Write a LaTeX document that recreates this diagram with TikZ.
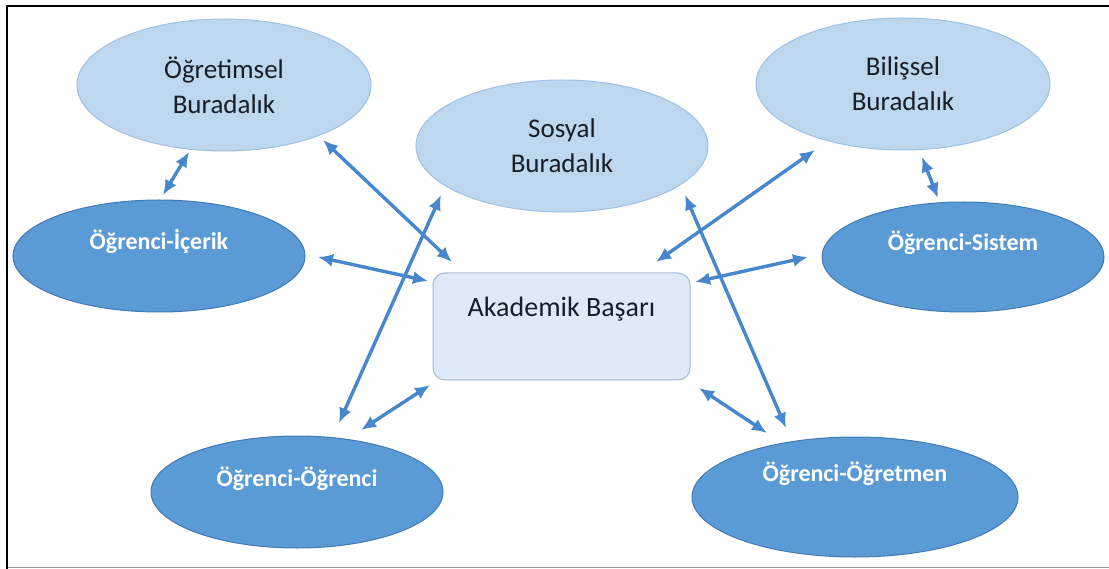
\documentclass[tikz,border=0pt]{standalone}
\usepackage{fontspec}
\setmainfont{Carlito}
\usetikzlibrary{shapes.geometric,arrows.meta}
\definecolor{lightfill}{RGB}{189,215,238}
\definecolor{lightedge}{RGB}{160,192,226}
\definecolor{darkfill}{RGB}{91,155,213}
\definecolor{darkedge}{RGB}{66,122,180}
\definecolor{boxfill}{RGB}{222,234,247}
\definecolor{boxedge}{RGB}{166,186,212}
\definecolor{arrowblue}{RGB}{72,134,206}
\definecolor{txtdark}{RGB}{24,30,40}
\tikzset{
  lightell/.style={ellipse, draw=lightedge, line width=1pt, fill=lightfill, inner sep=0pt,
    text=txtdark, align=center, font=\fontsize{27}{35}\selectfont},
  darkell/.style={ellipse, draw=darkedge, line width=1pt, fill=darkfill, inner sep=0pt,
    text=white, font=\fontsize{24}{28}\selectfont\bfseries, text height=0.7em},
  centerbox/.style={rectangle, rounded corners=12pt, draw=boxedge, line width=1pt, fill=boxfill,
    inner sep=0pt, text=txtdark, font=\fontsize{28}{32}\selectfont, text height=0.7em},
  biarrow/.style={{Latex[length=15pt,width=13pt]}-{Latex[length=15pt,width=13pt]},
    draw=arrowblue, line width=3.4pt}
}
\begin{document}
\begin{tikzpicture}[x=1pt,y=-1pt]
\useasboundingbox (0,0) rectangle (1109,569);
\fill[white] (0,0) rectangle (1109,569);
% frame
\draw[black!40, line width=1pt] (7,567.5) -- (1109,567.5);
\draw[black, line width=2.5pt] (7,569) -- (7,6) -- (1109,6);

% nodes
\node[lightell, minimum width=294pt, minimum height=132pt] (ob) at (224,85) {Öğretimsel\\Buradalık};
\node[lightell, minimum width=292pt, minimum height=132pt] (sb) at (562,146) {Sosyal\\Buradalık};
\node[lightell, minimum width=294pt, minimum height=132pt] (bb) at (903,84) {Bilişsel\\Buradalık};
\node[darkell, minimum width=292pt, minimum height=112pt, text depth=19pt] (oi) at (159,256) {Öğrenci-İçerik};
\node[darkell, minimum width=282pt, minimum height=110pt, text depth=19pt] (os) at (963,257) {Öğrenci-Sistem};
\node[darkell, minimum width=292pt, minimum height=112pt, text depth=19pt] (oo) at (297,492) {Öğrenci-Öğrenci};
\node[darkell, minimum width=326pt, minimum height=120pt, text depth=38pt] (ot) at (855,497) {Öğrenci-Öğretmen};
\node[centerbox, minimum width=257pt, minimum height=107pt, text depth=27pt] (ab) at (561.5,326.5) {Akademik Başarı};

% arrow end points
\coordinate (ob-oi-a) at (189,152);  \coordinate (ob-oi-b) at (163,195);
\coordinate (ob-ab-a) at (323,140);  \coordinate (ob-ab-b) at (452,262);
\coordinate (oi-ab-a) at (318,257);  \coordinate (oi-ab-b) at (428,281);
\coordinate (sb-oo-a) at (441,195);  \coordinate (sb-oo-b) at (339,423);
\coordinate (ab-oo-a) at (430,385);  \coordinate (ab-oo-b) at (361,430);
\coordinate (bb-ab-a) at (815,150);  \coordinate (bb-ab-b) at (656,262);
\coordinate (os-ab-a) at (808,257);  \coordinate (os-ab-b) at (695,282);
\coordinate (sb-ot-a) at (685,195);  \coordinate (sb-ot-b) at (786,428);
\coordinate (ab-ot-a) at (699,388);  \coordinate (ab-ot-b) at (767,433);
\coordinate (bb-os-a) at (922,157);  \coordinate (bb-os-b) at (938,198);

% connectors
\draw[biarrow] (ob-oi-a) -- (ob-oi-b);
\draw[biarrow] (ob-ab-a) -- (ob-ab-b);
\draw[biarrow] (oi-ab-a) -- (oi-ab-b);
\draw[biarrow] (sb-oo-a) -- (sb-oo-b);
\draw[biarrow] (ab-oo-a) -- (ab-oo-b);
\draw[biarrow] (bb-ab-a) -- (bb-ab-b);
\draw[biarrow] (os-ab-a) -- (os-ab-b);
\draw[biarrow] (sb-ot-a) -- (sb-ot-b);
\draw[biarrow] (ab-ot-a) -- (ab-ot-b);
\draw[biarrow] (bb-os-a) -- (bb-os-b);
\end{tikzpicture}
\end{document}
